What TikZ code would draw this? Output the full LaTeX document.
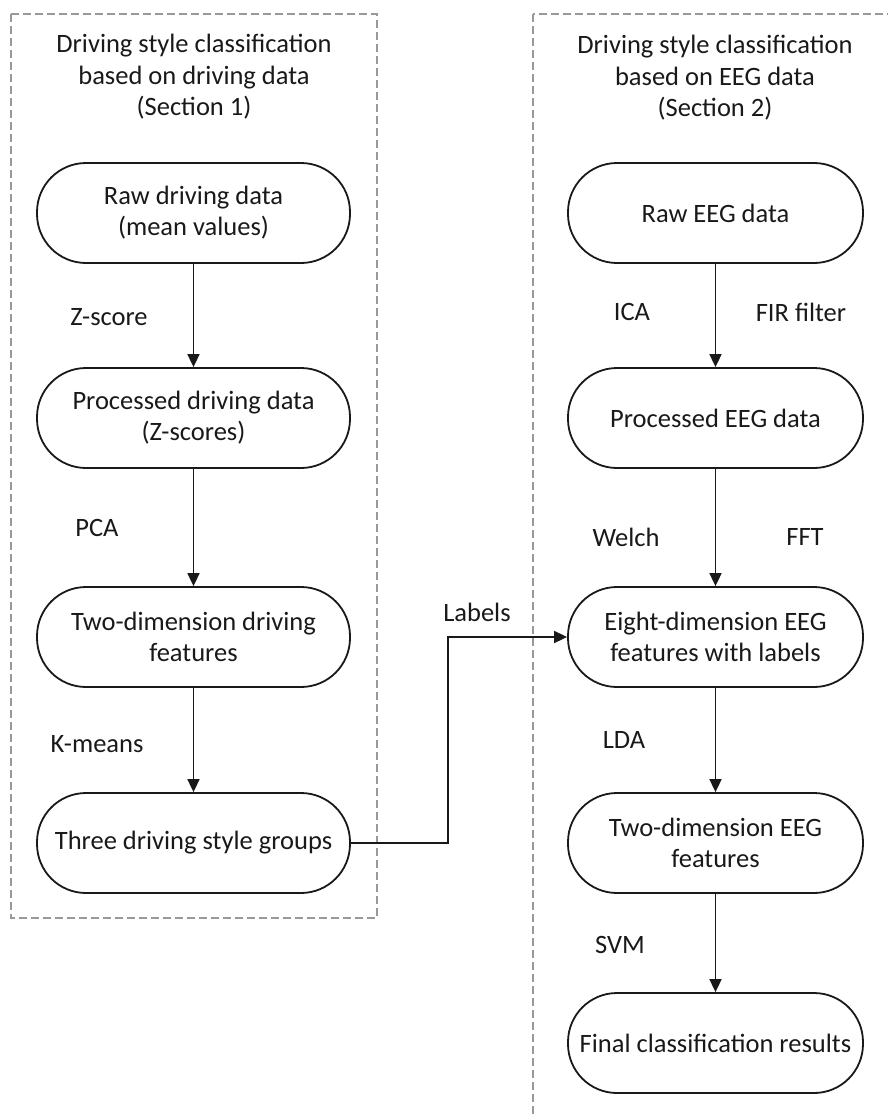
\documentclass[tikz,border=0pt]{standalone}
\usepackage{fontspec}
\setmainfont{Carlito}
\usetikzlibrary{arrows.meta}
\begin{document}
\begin{tikzpicture}[x=1pt,y=-1pt,
  stadium/.style={draw=black!90, line width=1.8pt, rounded corners=49pt, minimum height=100pt, align=center, font=\fontsize{26.5}{31}\selectfont, inner sep=0pt, text=black!90},
  lstad/.style={stadium, minimum width=313pt},
  rstad/.style={stadium, minimum width=295pt},
  lbl/.style={font=\fontsize{26.5}{31}\selectfont, inner sep=0pt, text=black!90},
  title/.style={align=center, font=\fontsize{26.5}{31.5}\selectfont, inner sep=0pt, text=black!90},
  grp/.style={draw=black!40, dash pattern=on 8pt off 4pt, line width=1.4pt},
  flow/.style={-{Triangle[length=13pt,width=12pt]}, line width=1.7pt, draw=black!90}]
\useasboundingbox (0,0) rectangle (888,1114);
% group boxes
\draw[grp] (11,14) rectangle (377,918);
\begin{scope}
  \clip (0,0) rectangle (888,1114);
  \draw[grp] (533,14) rectangle (900,1130);
\end{scope}
% titles
\node[title] (t1) at (194,77) {Driving style classification\\based on driving data\\(Section 1)};
\node[title] (t2) at (715,78) {Driving style classification\\based on EEG data\\(Section 2)};
% left column
\node[lstad] (rawd) at (193.5,213) {Raw driving data\\(mean values)};
\node[lstad] (procd) at (193.5,418) {Processed driving data\\(Z-scores)};
\node[lstad] (twod) at (193.5,637) {Two-dimension driving\\features};
\node[lstad] (three) at (193.5,843) {Three driving style groups};
% right column
\node[rstad] (rawe) at (715.5,213) {Raw EEG data};
\node[rstad] (proce) at (715.5,418) {Processed EEG data};
\node[rstad] (eight) at (715.5,637) {Eight-dimension EEG\\features with labels};
\node[rstad] (twoe) at (715.5,843) {Two-dimension EEG\\features};
\node[rstad] (final) at (715.5,1043) {Final classification results};
% arrows
\draw[flow] (rawd) -- (procd);
\draw[flow] (procd) -- (twod);
\draw[flow] (twod) -- (three);
\draw[flow] (rawe) -- (proce);
\draw[flow] (proce) -- (eight);
\draw[flow] (eight) -- (twoe);
\draw[flow] (twoe) -- (final);
\coordinate (bendA) at (448,843);
\draw[flow] (three.east) -- (bendA) |- (eight.west);
% labels
\node[lbl] (lz) at (109,317) {Z-score};
\node[lbl] (lpca) at (97,528) {PCA};
\node[lbl] (lkm) at (97,744) {K-means};
\node[lbl] (lica) at (632,312) {ICA};
\node[lbl] (lfir) at (801,312) {FIR filter};
\node[lbl] (lwel) at (626,537) {Welch};
\node[lbl] (lfft) at (805,537) {FFT};
\node[lbl] (llda) at (624,740) {LDA};
\node[lbl] (lsvm) at (620,945) {SVM};
\node[lbl] (llab) at (477,612) {Labels};
\end{tikzpicture}
\end{document}
